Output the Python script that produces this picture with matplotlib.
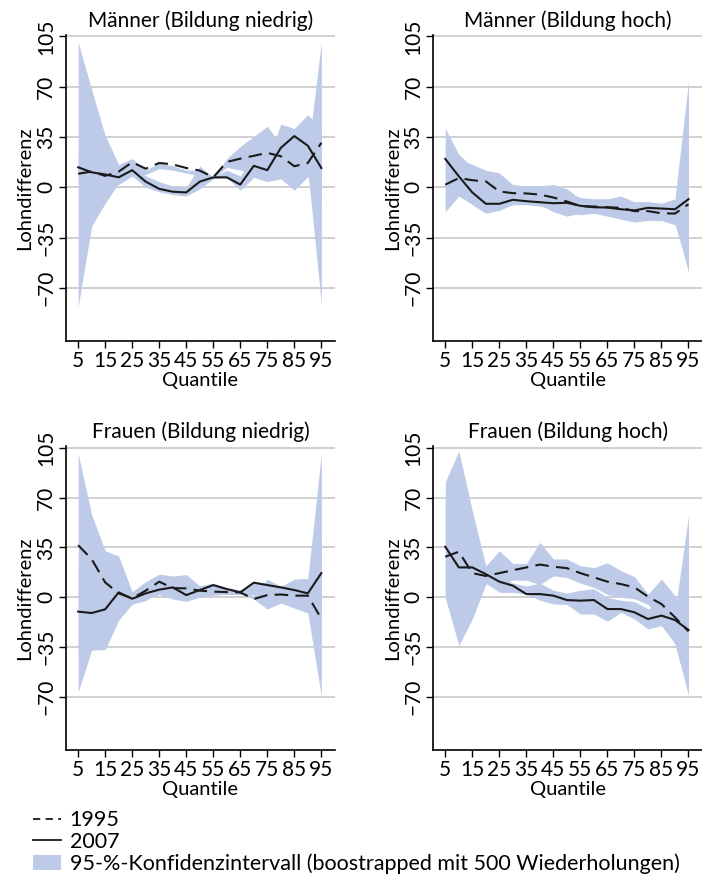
import numpy as np
import matplotlib
matplotlib.use('Agg')
from matplotlib import pyplot as plt
from matplotlib.lines import Line2D
from matplotlib.patches import Patch

plt.rcParams['font.family'] = ['Lato', 'DejaVu Sans']

quantile = [5, 10, 15, 20, 25, 30, 35, 40, 45, 50, 55, 60, 65, 70, 75, 80, 85, 90, 95]

# Männer (Bildung niedrig)
mn_1995 = [9.5, 11, 8, 11, 17.5, 13, 17, 16, 13.5, 11.7, 7, 17.7, 20, 22, 24, 21.7, 14.7, 17, 31]
mn_2007 = [14, 10.5, 9, 7, 12, 4, -1, -3, -3.5, 4, 7, 7, 2, 15, 12, 27.5, 35.7, 29, 13.5]
mn_hi95 = [101, 68, 36, 16, 20, 12, 17, 15, 12, 12, 7, 20, 28.5, 35.5, 42.5, 30, 22, 24, 101]
mn_lo95 = [-83, -27, -11, 3, 10, 9, 13, 12, 10, 8, 6, 14, 12, 9, 8, 10, 8, 12, -81]
mn_hi07 = [25, 18, 14, 10, 17, 8, 4, 1, 0, 15, 7, 12, 8, 20, 18, 44, 41, 50.6, 40]
mn_lo07 = [3, 2, 3, 2, 8, 0, -3, -5, -6, -1, 6, 7, -2, 7, 4, 6, -2, 7.5, -10]

# Männer (Bildung hoch)
mh_1995 = [1.9, 6.5, 5, 4.2, -2.8, -4, -4.2, -5, -7, -9.8, -13, -13.3, -13.8, -14.2, -16.5, -16.5, -18, -18.2, -11.7]
mh_2007 = [19.8, 7.7, -3.5, -11.4, -11.4, -8.6, -9.6, -10.3, -11, -10.7, -12.8, -13.8, -14, -15.2, -16, -14.2, -14.7, -15.2, -8.2]
mh_hi95 = [30, 20, 16, 12, 10, 2, 1, 1, 2, -1, -8, -8, -8, -6, -10, -10, -12, -10, 60]
mh_lo95 = [-15, -5, -5, -5, -10, -10, -10, -12, -17, -20, -18, -18, -19, -22, -24, -23, -23, -26, -55]
mh_hi07 = [41, 23, 14, 6, 0, 0, -2, -3, -3, -4, -7, -8, -8, -9, -10, -10, -11, -8, 74]
mh_lo07 = [-17, -6, -12, -18, -16, -12, -12, -13, -15, -17, -19, -18, -20, -22, -24, -21, -22, -24, -59]

# Frauen (Bildung niedrig)
fn_1995 = [36.6, 26.8, 10.5, 2.8, -0.7, 4.7, 11, 6.5, 6.3, 4.7, 4, 3.7, 3.5, -1.2, 1.6, 2, 1.2, 1.2, -15]
fn_2007 = [-10, -11, -8.4, 3.5, -1, 2.8, 5.4, 7, 1.6, 5.1, 8.6, 5.8, 3.5, 10.3, 8.6, 7, 5.1, 2.8, 17]
fn_hi95 = [100.8, 58, 32.7, 29, 4, 11, 16.3, 15, 16, 8, 6, 5, 5, 1, 12.8, 7.7, 12.8, 13.3, 100.8]
fn_lo95 = [-66.5, -37, -36.6, -16, -4.7, -2.3, 4, 1, 1, 1, 1.5, 2, 2.8, -1.2, -8.2, -4, -7.5, -11, -69.5]
fn_hi07 = [20, 10, 8, 8, 3, 8, 10, 10, 5, 8, 10, 7, 5, 11, 10, 8, 10, 10, 40]
fn_lo07 = [-40, -30, -25, -5, -4, -1, 2, -1.2, -2.8, 0, 2, 2, 2, 2, -5, -2, -3, -5, -10]

# Frauen (Bildung hoch)
fh_1995 = [28.5, 32, 17, 15, 17, 19, 21, 23, 21.5, 20.5, 17, 14, 11, 9.3, 7, 0.5, -4.7, -14, -23.8]
fh_2007 = [35.5, 21, 21, 16.3, 11, 8.2, 2.3, 2.3, 1.2, -1.9, -2.3, -1.9, -8.2, -8.2, -10.5, -15.2, -12.8, -15.9, -22.9]
fh_hi95 = [81, 102.7, 60.7, 22, 32.7, 23.8, 23.8, 38.5, 26.9, 26.9, 22.2, 20.8, 24.3, 18.7, 14.5, 2.3, 12.8, 1.2, -15]
fh_lo95 = [0, -33.8, -15.2, 9.3, 10, 12, 12, 9, 15, 14, 10, 7, 2, 0, -1, -5, -15, -28, -35]
fh_hi07 = [70, 60, 40, 20, 15, 10, 8, 10, 5, 3, 5, 6, 0, -2, -3, -8, -5, -10, 57.2]
fh_lo07 = [0, -30, -12, 10, 3.5, 3.5, 2.3, -2, -4.7, -5, -11.7, -11.7, -16.8, -10.5, -15.2, -22.2, -19.8, -32.7, -68.8]

titles = ['Männer (Bildung niedrig)', 'Männer (Bildung hoch)',
          'Frauen (Bildung niedrig)', 'Frauen (Bildung hoch)']
yticks = [-70, -35, 0, 35, 70, 105]
xticks = [5, 15, 25, 35, 45, 55, 65, 75, 85, 95]

band_col = '#bdcbe9'

panels = [
    (mn_1995, mn_2007, mn_lo95, mn_hi95, mn_lo07, mn_hi07),
    (mh_1995, mh_2007, mh_lo95, mh_hi95, mh_lo07, mh_hi07),
    (fn_1995, fn_2007, fn_lo95, fn_hi95, fn_lo07, fn_hi07),
    (fh_1995, fh_2007, fh_lo95, fh_hi95, fh_lo07, fh_hi07),
]

# Achsenpositionen (links, unten, breite, höhe)
pos = [[0.094, 0.610, 0.383, 0.350],
       [0.617, 0.610, 0.383, 0.350],
       [0.094, 0.143, 0.383, 0.347],
       [0.617, 0.143, 0.383, 0.347]]

fig = plt.figure(figsize=(7.02, 8.75), dpi=100)

for i in range(4):
    y95, y07, lo95, hi95, lo07, hi07 = panels[i]
    ax = fig.add_axes(pos[i])
    ax.fill_between(quantile, lo95, hi95, color=band_col, lw=0, zorder=1)
    ax.fill_between(quantile, lo07, hi07, color=band_col, lw=0, zorder=1)
    ax.plot(quantile, y95, color='#1a1a1a', lw=1.5, dashes=(6.5, 3.5), zorder=3)
    ax.plot(quantile, y07, color='#1a1a1a', lw=1.5, zorder=3)
    ax.set_xlim(0.5, 100)
    ax.set_ylim(-107, 106)
    ax.set_yticks(yticks)
    ax.set_yticklabels(['−70', '−35', '0', '35', '70', '105'], rotation=90, va='center')
    ax.set_xticks(xticks)
    ax.yaxis.grid(True, color='#c8c8c8', lw=1.2)
    ax.set_axisbelow(True)
    for s in ['top', 'right']:
        ax.spines[s].set_visible(False)
    ax.spines['left'].set_linewidth(1.2)
    ax.spines['bottom'].set_linewidth(1.2)
    ax.tick_params(labelsize=15, length=5, width=1.0, pad=2)
    ax.set_title(titles[i], fontsize=15, pad=6)
    ax.set_xlabel('Quantile', fontsize=14.5, labelpad=1)
    ax.set_ylabel('Lohndifferenz', fontsize=14.5, labelpad=2)

handles = [Line2D([], [], color='#1a1a1a', lw=1.3, dashes=(4, 3)),
           Line2D([], [], color='#1a1a1a', lw=1.3),
           Patch(facecolor=band_col, edgecolor='none')]
labels = ['1995', '2007', '95-%-Konfidenzintervall (boostrapped mit 500 Wiederholungen)']
fig.legend(handles, labels, loc='upper left', bbox_to_anchor=(0.035, 0.084),
           frameon=False, fontsize=15.5, handlelength=1.3, handletextpad=0.4,
           labelspacing=0.08, borderaxespad=0)

plt.savefig('out.png', dpi=100)
